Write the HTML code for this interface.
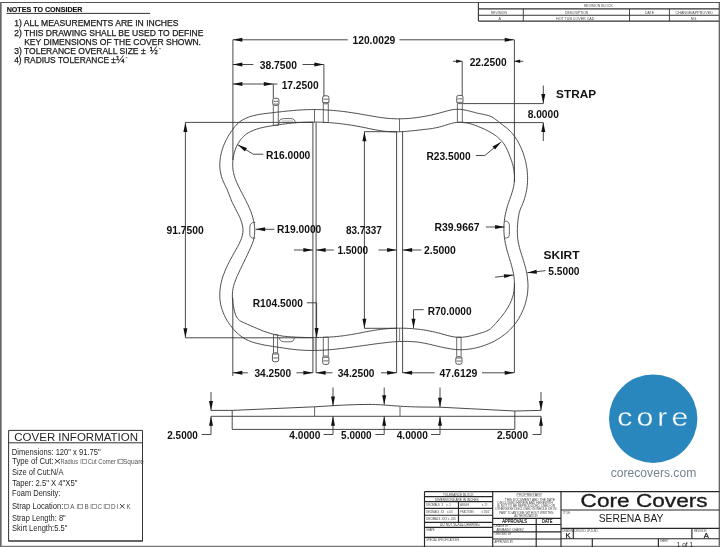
<!DOCTYPE html>
<html><head><meta charset="utf-8"><style>
html,body{margin:0;padding:0;background:#fff;}
body{width:720px;height:547px;overflow:hidden;}
svg{display:block;font-family:"Liberation Sans",sans-serif;will-change:transform;}
</style></head><body>
<svg width="720" height="547" viewBox="0 0 720 547">
<rect width="720" height="547" fill="#fff"/>
<line x1="0" y1="2.5" x2="720" y2="2.5" stroke="#555" stroke-width="1.2"/>
<line x1="0.8" y1="2" x2="0.8" y2="547" stroke="#666" stroke-width="1.7"/>
<line x1="719.3" y1="2" x2="719.3" y2="547" stroke="#555" stroke-width="1.2"/>
<line x1="0" y1="546.4" x2="720" y2="546.4" stroke="#777" stroke-width="1.2"/>
<line x1="6.5" y1="13.4" x2="150" y2="13.4" stroke="#333" stroke-width="1.0"/>
<line x1="478.4" y1="8.9" x2="719" y2="8.9" stroke="#333" stroke-width="1.1"/>
<line x1="478.4" y1="15.3" x2="719" y2="15.3" stroke="#333" stroke-width="1.1"/>
<line x1="478.4" y1="21.1" x2="719" y2="21.1" stroke="#333" stroke-width="1.1"/>
<line x1="478.4" y1="2.3" x2="478.4" y2="21.1" stroke="#333" stroke-width="1.1"/>
<line x1="523.3" y1="8.9" x2="523.3" y2="21.1" stroke="#333" stroke-width="0.9"/>
<line x1="629.5" y1="8.9" x2="629.5" y2="21.1" stroke="#333" stroke-width="0.9"/>
<line x1="669.4" y1="8.9" x2="669.4" y2="21.1" stroke="#333" stroke-width="0.9"/>
<path d="M310.0,109.6 L311.7,109.6 L313.4,109.5 L315.1,109.6 L316.7,109.6 L318.4,109.6 L320.1,109.6 L321.7,109.7 L323.4,109.8 L325.1,109.9 L326.7,110.0 L328.4,110.1 L330.1,110.2 L331.7,110.3 L333.4,110.5 L335.1,110.6 L336.7,110.8 L338.4,110.9 L340.1,111.1 L341.7,111.3 L343.4,111.5 L345.0,111.7 L346.7,111.9 L348.4,112.2 L350.0,112.4 L351.7,112.7 L353.3,112.9 L355.0,113.2 L356.6,113.4 L358.3,113.7 L360.0,114.0 L361.6,114.3 L363.3,114.6 L364.9,114.9 L366.6,115.1 L368.2,115.4 L369.9,115.7 L371.5,116.0 L373.2,116.3 L374.9,116.6 L376.5,116.8 L378.2,117.1 L379.8,117.4 L381.5,117.6 L383.1,117.8 L384.8,118.0 L386.5,118.2 L388.1,118.3 L389.8,118.5 L391.4,118.6 L393.1,118.7 L394.8,118.7 L396.4,118.8 L398.1,118.8 L399.8,118.8 L401.4,118.8 L403.1,118.7 L404.8,118.7 L406.4,118.6 L408.1,118.5 L409.8,118.4 L411.5,118.2 L413.1,118.0 L414.8,117.9 L416.5,117.6 L418.1,117.4 L419.8,117.2 L421.4,116.9 L423.1,116.6 L424.8,116.3 L426.4,116.0 L428.1,115.7 L429.7,115.4 L431.4,115.0 L433.0,114.6 L434.7,114.2 L436.3,113.8 L438.0,113.4 L439.6,113.0 L441.2,112.5 L442.9,112.1 L444.5,111.6 L446.1,111.2 L447.8,110.7 L449.4,110.4 L451.0,110.0 L452.6,109.7 L454.3,109.5 L455.9,109.4 L457.5,109.3 L459.1,109.3 L460.8,109.4 L462.4,109.6 L464.0,109.9 L465.7,110.2 L467.3,110.6 L468.9,110.9 L470.6,111.4 L472.2,111.8 L473.9,112.2 L475.5,112.7 L477.2,113.1 L478.8,113.5 L480.5,113.8 L482.2,114.1 L483.8,114.5 L485.5,114.8 L487.1,115.2 L488.7,115.6 L490.2,116.2 L491.7,116.9 L493.1,117.7 L494.5,118.6 L495.8,119.6 L497.2,120.6 L498.5,121.7 L499.9,122.7 L501.2,123.8 L502.6,124.8 L503.9,125.9 L505.2,126.9 L506.6,127.9 L507.8,129.0 L509.1,130.1 L510.3,131.3 L511.4,132.5 L512.5,133.7 L513.6,135.0 L514.6,136.3 L515.5,137.7 L516.4,139.1 L517.3,140.5 L518.1,141.9 L518.9,143.4 L519.7,144.9 L520.4,146.4 L521.1,147.9 L521.7,149.5 L522.4,151.0 L523.0,152.6 L523.5,154.2 L524.0,155.8 L524.5,157.4 L525.0,159.0 L525.4,160.6 L525.8,162.3 L526.1,163.9 L526.4,165.6 L526.7,167.3 L527.0,168.9 L527.2,170.6 L527.3,172.3 L527.4,173.9 L527.5,175.6 L527.6,177.3 L527.6,179.0 L527.5,180.6 L527.5,182.3 L527.4,184.0 L527.2,185.7 L527.0,187.3 L526.8,189.0 L526.5,190.6 L526.2,192.3 L525.8,193.9 L525.4,195.5 L525.0,197.1 L524.5,198.7 L524.0,200.3 L523.4,201.9 L522.8,203.4 L522.2,205.0 L521.5,206.5 L520.8,208.0 L520.2,209.6 L519.7,211.2 L519.2,212.7 L518.9,214.3 L518.6,216.0 L518.3,217.6 L518.1,219.3 L517.9,220.9 L517.8,222.6 L517.6,224.3 L517.5,226.0 L517.4,227.7 L517.4,229.4 L517.3,231.1 L517.4,232.8 L517.4,234.4 L517.5,236.1 L517.7,237.8 L517.8,239.5 L518.1,241.1 L518.4,242.8 L518.7,244.4 L519.1,246.0 L519.5,247.6 L519.9,249.2 L520.4,250.9 L520.9,252.5 L521.4,254.1 L521.9,255.7 L522.4,257.2 L522.9,258.8 L523.4,260.4 L523.9,262.0 L524.4,263.7 L524.8,265.3 L525.3,266.9 L525.7,268.5 L526.1,270.1 L526.4,271.8 L526.8,273.4 L527.1,275.0 L527.3,276.7 L527.5,278.3 L527.7,280.0 L527.8,281.7 L527.9,283.3 L528.0,285.0 L528.0,286.7 L527.9,288.3 L527.8,290.0 L527.7,291.7 L527.5,293.3 L527.3,295.0 L527.0,296.6 L526.7,298.3 L526.3,299.9 L525.9,301.6 L525.4,303.2 L525.0,304.8 L524.4,306.4 L523.8,308.0 L523.2,309.6 L522.6,311.1 L521.8,312.6 L521.1,314.2 L520.3,315.6 L519.5,317.1 L518.7,318.6 L517.8,320.0 L516.8,321.4 L515.9,322.8 L514.9,324.1 L513.8,325.4 L512.7,326.7 L511.6,328.0 L510.5,329.2 L509.3,330.4 L508.1,331.5 L506.9,332.6 L505.6,333.7 L504.3,334.7 L503.0,335.7 L501.6,336.7 L500.2,337.7 L498.8,338.6 L497.4,339.4 L495.9,340.3 L494.5,341.1 L493.0,341.8 L491.5,342.6 L489.9,343.2 L488.4,343.9 L486.8,344.5 L485.3,345.1 L483.7,345.7 L482.1,346.2 L480.5,346.7 L478.8,347.2 L477.2,347.6 L475.6,348.0 L473.9,348.3 L472.3,348.6 L470.6,348.9 L469.0,349.1 L467.3,349.3 L465.6,349.5 L464.0,349.6 L462.3,349.7 L460.7,349.7 L459.0,349.7 L457.3,349.6 L455.7,349.5 L454.0,349.3 L452.4,349.1 L450.7,348.9 L449.1,348.6 L447.4,348.3 L445.8,348.0 L444.1,347.7 L442.5,347.3 L440.8,346.9 L439.2,346.6 L437.5,346.2 L435.9,345.8 L434.2,345.4 L432.6,345.0 L430.9,344.6 L429.3,344.2 L427.7,343.9 L426.0,343.5 L424.4,343.2 L422.7,342.9 L421.1,342.6 L419.4,342.3 L417.8,342.1 L416.1,341.9 L414.4,341.8 L412.8,341.7 L411.1,341.6 L409.5,341.5 L407.8,341.4 L406.1,341.4 L404.5,341.4 L402.8,341.4 L401.1,341.5 L399.5,341.5 L397.8,341.6 L396.1,341.7 L394.5,341.8 L392.8,341.9 L391.1,342.1 L389.4,342.2 L387.8,342.4 L386.1,342.6 L384.4,342.8 L382.8,343.0 L381.1,343.2 L379.4,343.4 L377.8,343.6 L376.1,343.8 L374.4,344.0 L372.8,344.3 L371.1,344.5 L369.4,344.7 L367.8,345.0 L366.1,345.2 L364.4,345.4 L362.8,345.7 L361.1,345.9 L359.5,346.1 L357.8,346.4 L356.1,346.6 L354.5,346.8 L352.8,347.1 L351.1,347.3 L349.5,347.5 L347.8,347.7 L346.2,347.9 L344.5,348.2 L342.8,348.4 L341.2,348.6 L339.5,348.7 L337.9,348.9 L336.2,349.1 L334.5,349.3 L332.9,349.4 L331.2,349.6 L329.5,349.7 L327.9,349.8 L326.2,350.0 L324.5,350.1 L322.9,350.2 L321.2,350.3 L319.6,350.3 L317.9,350.4 L316.2,350.4 L314.5,350.5 L312.9,350.5 L311.2,350.5 L309.5,350.4 L307.9,350.4 L306.2,350.4 L304.5,350.3 L302.8,350.2 L301.2,350.1 L299.5,350.0 L297.8,349.8 L296.1,349.7 L294.5,349.5 L292.8,349.3 L291.1,349.1 L289.4,348.9 L287.8,348.7 L286.1,348.4 L284.4,348.2 L282.8,347.9 L281.1,347.7 L279.4,347.4 L277.8,347.2 L276.1,346.9 L274.5,346.7 L272.8,346.4 L271.2,346.2 L269.5,345.9 L267.9,345.6 L266.3,345.4 L264.6,345.1 L263.0,344.7 L261.4,344.4 L259.7,344.0 L258.1,343.7 L256.4,343.2 L254.8,342.8 L253.1,342.3 L251.5,341.7 L249.9,341.2 L248.4,340.5 L246.9,339.8 L245.4,339.1 L243.9,338.2 L242.5,337.3 L241.2,336.4 L239.9,335.4 L238.6,334.3 L237.3,333.2 L236.1,332.0 L235.0,330.8 L233.8,329.6 L232.7,328.3 L231.7,327.0 L230.6,325.7 L229.6,324.3 L228.7,322.9 L227.7,321.5 L226.9,320.1 L226.0,318.6 L225.2,317.1 L224.5,315.6 L223.8,314.1 L223.2,312.5 L222.6,310.9 L222.0,309.3 L221.5,307.7 L221.1,306.1 L220.7,304.5 L220.4,302.8 L220.2,301.2 L220.0,299.5 L219.8,297.9 L219.8,296.2 L219.8,294.5 L219.8,292.8 L219.9,291.1 L220.1,289.5 L220.3,287.8 L220.5,286.1 L220.8,284.5 L221.2,282.8 L221.5,281.2 L222.0,279.6 L222.4,278.0 L222.9,276.4 L223.5,274.8 L224.1,273.3 L224.7,271.7 L225.3,270.2 L225.9,268.7 L226.6,267.2 L227.3,265.7 L228.1,264.2 L228.8,262.7 L229.6,261.2 L230.4,259.7 L231.2,258.2 L232.0,256.8 L232.8,255.3 L233.6,253.8 L234.5,252.3 L235.3,250.8 L236.1,249.3 L237.0,247.8 L237.8,246.3 L238.6,244.8 L239.4,243.2 L240.1,241.7 L240.8,240.2 L241.4,238.6 L241.9,237.1 L242.3,235.5 L242.7,233.9 L242.9,232.3 L243.0,230.7 L243.0,229.1 L242.8,227.5 L242.6,225.9 L242.2,224.3 L241.8,222.7 L241.2,221.0 L240.6,219.4 L240.0,217.8 L239.2,216.2 L238.5,214.6 L237.7,213.1 L236.9,211.5 L236.1,210.0 L235.3,208.5 L234.6,207.0 L233.8,205.6 L233.1,204.1 L232.4,202.7 L231.7,201.2 L231.1,199.7 L230.5,198.2 L229.9,196.6 L229.3,195.1 L228.7,193.5 L228.1,192.0 L227.5,190.4 L226.8,188.8 L226.0,187.3 L225.3,185.7 L224.5,184.2 L223.8,182.6 L223.1,181.0 L222.5,179.5 L221.9,177.9 L221.4,176.3 L221.0,174.6 L220.6,173.0 L220.3,171.4 L220.1,169.8 L219.9,168.1 L219.8,166.5 L219.8,164.8 L219.8,163.2 L219.9,161.5 L220.1,159.9 L220.3,158.3 L220.5,156.6 L220.8,155.0 L221.2,153.4 L221.6,151.7 L222.1,150.1 L222.6,148.5 L223.1,146.9 L223.7,145.4 L224.4,143.8 L225.1,142.2 L225.8,140.7 L226.6,139.2 L227.4,137.7 L228.2,136.2 L229.1,134.7 L230.0,133.3 L230.9,131.9 L231.9,130.5 L232.9,129.1 L233.9,127.8 L234.9,126.5 L236.1,125.2 L237.2,124.0 L238.4,122.9 L239.7,121.9 L241.0,120.9 L242.4,120.0 L243.9,119.2 L245.4,118.5 L246.9,117.8 L248.5,117.2 L250.1,116.6 L251.8,116.1 L253.4,115.7 L255.0,115.3 L256.7,114.9 L258.3,114.6 L260.0,114.3 L261.6,114.1 L263.3,113.8 L264.9,113.6 L266.6,113.4 L268.3,113.2 L269.9,113.0 L271.6,112.8 L273.2,112.6 L274.9,112.4 L276.6,112.2 L278.2,112.0 L279.9,111.9 L281.6,111.7 L283.2,111.5 L284.9,111.3 L286.6,111.1 L288.3,111.0 L289.9,110.8 L291.6,110.7 L293.3,110.5 L295.0,110.4 L296.6,110.2 L298.3,110.1 L300.0,110.0 L301.7,109.9 L303.3,109.8 L305.0,109.7 L306.7,109.7 L308.4,109.6 L310.0,109.6Z" stroke="#363636" stroke-width="0.9" fill="none"/>
<path d="M310.0,122.1 L311.5,122.1 L313.0,122.1 L314.6,122.1 L316.1,122.1 L317.6,122.1 L319.2,122.2 L320.7,122.2 L322.2,122.3 L323.8,122.3 L325.3,122.4 L326.8,122.5 L328.4,122.6 L329.9,122.7 L331.4,122.8 L333.0,122.9 L334.5,123.1 L336.1,123.2 L337.6,123.4 L339.1,123.5 L340.7,123.7 L342.2,123.9 L343.7,124.1 L345.3,124.3 L346.8,124.5 L348.3,124.7 L349.9,125.0 L351.4,125.2 L352.9,125.4 L354.4,125.7 L356.0,126.0 L357.5,126.2 L359.0,126.5 L360.5,126.8 L362.0,127.1 L363.6,127.4 L365.1,127.7 L366.6,128.0 L368.1,128.4 L369.6,128.7 L371.1,129.0 L372.6,129.3 L374.1,129.6 L375.7,129.9 L377.2,130.1 L378.7,130.4 L380.2,130.6 L381.7,130.9 L383.2,131.1 L384.7,131.3 L386.3,131.4 L387.8,131.6 L389.3,131.7 L390.8,131.8 L392.4,131.8 L393.9,131.9 L395.4,131.9 L397.0,131.8 L398.5,131.8 L400.0,131.7 L401.6,131.7 L403.1,131.6 L404.7,131.5 L406.2,131.4 L407.7,131.2 L409.3,131.1 L410.8,130.9 L412.4,130.8 L413.9,130.6 L415.5,130.4 L417.0,130.3 L418.5,130.1 L420.1,129.9 L421.6,129.8 L423.1,129.6 L424.7,129.4 L426.2,129.3 L427.7,129.1 L429.2,128.9 L430.7,128.7 L432.3,128.5 L433.8,128.2 L435.3,127.9 L436.8,127.6 L438.3,127.3 L439.8,126.9 L441.3,126.5 L442.8,126.1 L444.3,125.6 L445.8,125.1 L447.2,124.7 L448.7,124.2 L450.2,123.8 L451.7,123.4 L453.2,123.0 L454.7,122.7 L456.2,122.5 L457.7,122.3 L459.2,122.2 L460.7,122.2 L462.2,122.3 L463.7,122.4 L465.2,122.6 L466.7,122.9 L468.2,123.2 L469.7,123.6 L471.2,124.0 L472.7,124.5 L474.2,125.0 L475.7,125.5 L477.2,126.1 L478.7,126.7 L480.1,127.3 L481.6,127.9 L483.0,128.5 L484.5,129.2 L485.9,129.9 L487.3,130.6 L488.7,131.3 L490.0,132.0 L491.4,132.8 L492.7,133.6 L494.0,134.5 L495.2,135.3 L496.4,136.2 L497.6,137.2 L498.7,138.2 L499.8,139.2 L500.9,140.3 L501.9,141.4 L502.9,142.5 L503.8,143.7 L504.7,145.0 L505.5,146.3 L506.2,147.7 L506.9,149.1 L507.6,150.5 L508.2,152.0 L508.8,153.5 L509.4,154.9 L509.9,156.4 L510.5,157.8 L511.0,159.3 L511.5,160.7 L512.0,162.1 L512.4,163.6 L512.9,165.0 L513.2,166.5 L513.5,168.0 L513.8,169.5 L514.0,171.0 L514.2,172.6 L514.4,174.1 L514.5,175.7 L514.5,177.2 L514.5,178.8 L514.4,180.3 L514.3,181.9 L514.1,183.4 L513.9,185.0 L513.6,186.5 L513.3,188.0 L512.9,189.5 L512.5,190.9 L512.1,192.4 L511.6,193.9 L511.2,195.3 L510.6,196.8 L510.1,198.2 L509.6,199.7 L509.1,201.1 L508.6,202.6 L508.1,204.0 L507.6,205.5 L507.2,207.0 L506.8,208.5 L506.4,210.0 L506.0,211.5 L505.7,213.0 L505.3,214.5 L505.0,216.0 L504.8,217.5 L504.6,219.0 L504.4,220.5 L504.2,222.1 L504.1,223.6 L504.0,225.1 L503.9,226.6 L503.9,228.2 L503.9,229.7 L503.9,231.2 L504.0,232.8 L504.1,234.3 L504.3,235.9 L504.4,237.4 L504.6,238.9 L504.9,240.4 L505.1,242.0 L505.4,243.5 L505.8,245.0 L506.1,246.5 L506.5,248.0 L506.8,249.5 L507.2,251.0 L507.7,252.5 L508.1,254.0 L508.5,255.4 L509.0,256.9 L509.4,258.4 L509.9,259.8 L510.3,261.3 L510.8,262.8 L511.2,264.2 L511.6,265.7 L512.0,267.2 L512.4,268.7 L512.7,270.2 L513.1,271.7 L513.4,273.2 L513.7,274.7 L513.9,276.2 L514.1,277.7 L514.2,279.3 L514.4,280.8 L514.4,282.4 L514.5,283.9 L514.4,285.5 L514.4,287.0 L514.3,288.5 L514.1,290.1 L513.9,291.6 L513.6,293.1 L513.3,294.6 L512.9,296.1 L512.4,297.5 L511.9,299.0 L511.4,300.4 L510.8,301.8 L510.2,303.2 L509.5,304.6 L508.7,305.9 L508.0,307.3 L507.2,308.6 L506.3,309.9 L505.5,311.2 L504.6,312.5 L503.7,313.7 L502.7,315.0 L501.8,316.2 L500.8,317.4 L499.8,318.6 L498.8,319.8 L497.8,321.0 L496.8,322.2 L495.7,323.4 L494.7,324.5 L493.7,325.6 L492.6,326.7 L491.6,327.8 L490.5,328.8 L489.3,329.6 L488.0,330.4 L486.7,331.0 L485.3,331.6 L483.9,332.1 L482.4,332.6 L480.9,333.0 L479.4,333.5 L477.9,333.9 L476.3,334.4 L474.8,334.8 L473.3,335.2 L471.7,335.6 L470.2,335.9 L468.7,336.3 L467.1,336.6 L465.6,336.8 L464.1,337.0 L462.5,337.2 L461.0,337.3 L459.5,337.3 L458.0,337.3 L456.4,337.2 L454.9,337.0 L453.4,336.8 L452.0,336.5 L450.5,336.2 L449.0,335.9 L447.5,335.5 L446.0,335.1 L444.5,334.7 L443.0,334.3 L441.5,333.8 L440.1,333.4 L438.6,333.0 L437.1,332.7 L435.6,332.3 L434.1,331.9 L432.6,331.6 L431.0,331.3 L429.5,331.0 L428.0,330.7 L426.5,330.4 L425.0,330.2 L423.5,329.9 L421.9,329.7 L420.4,329.5 L418.9,329.3 L417.4,329.1 L415.8,329.0 L414.3,328.8 L412.8,328.7 L411.2,328.6 L409.7,328.5 L408.1,328.4 L406.6,328.3 L405.1,328.3 L403.5,328.2 L402.0,328.2 L400.5,328.2 L398.9,328.2 L397.4,328.2 L395.8,328.2 L394.3,328.3 L392.8,328.4 L391.2,328.4 L389.7,328.5 L388.2,328.6 L386.6,328.8 L385.1,328.9 L383.6,329.1 L382.0,329.2 L380.5,329.4 L379.0,329.6 L377.5,329.8 L375.9,330.1 L374.4,330.3 L372.9,330.6 L371.4,330.8 L369.9,331.1 L368.3,331.4 L366.8,331.6 L365.3,331.9 L363.8,332.2 L362.3,332.5 L360.8,332.8 L359.3,333.1 L357.7,333.4 L356.2,333.7 L354.7,333.9 L353.2,334.2 L351.7,334.5 L350.2,334.7 L348.6,335.0 L347.1,335.2 L345.6,335.4 L344.1,335.7 L342.6,335.9 L341.0,336.0 L339.5,336.2 L338.0,336.4 L336.4,336.5 L334.9,336.7 L333.4,336.8 L331.9,336.9 L330.3,337.0 L328.8,337.1 L327.2,337.2 L325.7,337.3 L324.2,337.3 L322.6,337.4 L321.1,337.4 L319.6,337.5 L318.0,337.5 L316.5,337.5 L314.9,337.5 L313.4,337.5 L311.8,337.5 L310.3,337.5 L308.8,337.5 L307.2,337.5 L305.7,337.5 L304.1,337.4 L302.6,337.4 L301.0,337.3 L299.5,337.3 L298.0,337.2 L296.4,337.2 L294.9,337.1 L293.3,337.0 L291.8,336.9 L290.3,336.8 L288.7,336.7 L287.2,336.6 L285.7,336.4 L284.2,336.3 L282.6,336.1 L281.1,335.8 L279.6,335.6 L278.1,335.3 L276.6,335.0 L275.1,334.7 L273.6,334.3 L272.2,333.9 L270.7,333.5 L269.2,333.1 L267.8,332.6 L266.3,332.1 L264.8,331.6 L263.4,331.1 L262.0,330.5 L260.5,329.9 L259.1,329.3 L257.6,328.7 L256.2,328.1 L254.8,327.5 L253.4,326.9 L251.9,326.3 L250.5,325.6 L249.1,325.0 L247.7,324.4 L246.3,323.8 L244.8,323.1 L243.4,322.5 L242.0,321.9 L240.7,321.2 L239.5,320.4 L238.4,319.4 L237.5,318.4 L236.7,317.2 L236.0,315.9 L235.5,314.5 L235.0,313.0 L234.6,311.5 L234.2,310.0 L233.9,308.4 L233.5,306.9 L233.3,305.3 L233.0,303.7 L232.8,302.2 L232.6,300.6 L232.5,299.1 L232.4,297.5 L232.4,296.0 L232.4,294.4 L232.5,292.9 L232.6,291.3 L232.8,289.8 L233.1,288.3 L233.4,286.8 L233.8,285.4 L234.2,283.9 L234.7,282.5 L235.2,281.0 L235.8,279.6 L236.3,278.2 L236.9,276.7 L237.6,275.3 L238.2,273.9 L238.9,272.5 L239.5,271.1 L240.2,269.7 L240.9,268.3 L241.5,266.9 L242.2,265.6 L242.8,264.2 L243.5,262.8 L244.2,261.4 L244.8,260.0 L245.5,258.6 L246.1,257.3 L246.8,255.9 L247.5,254.5 L248.1,253.1 L248.8,251.7 L249.4,250.3 L250.1,248.9 L250.7,247.5 L251.3,246.0 L251.9,244.6 L252.5,243.2 L253.0,241.7 L253.5,240.2 L253.8,238.8 L254.1,237.3 L254.4,235.7 L254.6,234.2 L254.7,232.7 L254.7,231.2 L254.7,229.6 L254.7,228.1 L254.5,226.5 L254.4,225.0 L254.2,223.5 L253.9,222.0 L253.6,220.5 L253.2,219.0 L252.8,217.5 L252.4,216.0 L251.9,214.5 L251.4,213.1 L250.9,211.6 L250.3,210.2 L249.7,208.8 L249.1,207.4 L248.5,206.0 L247.8,204.6 L247.1,203.2 L246.4,201.8 L245.8,200.4 L245.0,199.0 L244.3,197.6 L243.6,196.3 L242.9,194.9 L242.2,193.5 L241.5,192.1 L240.7,190.8 L240.0,189.4 L239.4,188.0 L238.7,186.7 L238.0,185.3 L237.4,183.9 L236.8,182.5 L236.2,181.1 L235.6,179.7 L235.1,178.3 L234.6,176.9 L234.2,175.4 L233.8,174.0 L233.5,172.5 L233.2,171.0 L233.0,169.5 L232.8,167.9 L232.7,166.4 L232.7,164.8 L232.7,163.3 L232.8,161.7 L232.9,160.1 L233.1,158.5 L233.3,157.0 L233.6,155.4 L234.0,153.9 L234.4,152.3 L234.9,150.8 L235.4,149.3 L235.9,147.9 L236.6,146.4 L237.3,145.0 L238.0,143.7 L238.8,142.4 L239.6,141.1 L240.5,139.9 L241.5,138.7 L242.5,137.6 L243.5,136.5 L244.6,135.5 L245.7,134.6 L246.9,133.7 L248.2,132.9 L249.5,132.2 L250.8,131.5 L252.2,130.9 L253.6,130.3 L255.0,129.7 L256.4,129.2 L257.9,128.8 L259.4,128.3 L260.9,127.9 L262.4,127.6 L264.0,127.2 L265.5,126.9 L267.1,126.6 L268.6,126.3 L270.2,126.1 L271.8,125.8 L273.3,125.5 L274.9,125.3 L276.4,125.0 L277.9,124.8 L279.5,124.6 L281.0,124.4 L282.5,124.2 L284.1,124.0 L285.6,123.8 L287.1,123.6 L288.7,123.4 L290.2,123.3 L291.7,123.1 L293.2,123.0 L294.7,122.8 L296.3,122.7 L297.8,122.6 L299.3,122.5 L300.8,122.4 L302.4,122.3 L303.9,122.3 L305.4,122.2 L306.9,122.2 L308.5,122.1 L310.0,122.1Z" stroke="#363636" stroke-width="0.9" fill="none"/>
<line x1="312.9" y1="122.5" x2="312.9" y2="373" stroke="#363636" stroke-width="0.9"/>
<line x1="316.1" y1="122.8" x2="316.1" y2="373" stroke="#363636" stroke-width="0.9"/>
<line x1="314.5" y1="109.5" x2="314.5" y2="122.5" stroke="#444" stroke-width="0.8"/>
<line x1="396.6" y1="131.7" x2="396.6" y2="373" stroke="#363636" stroke-width="0.9"/>
<line x1="402.6" y1="131.5" x2="402.6" y2="373" stroke="#363636" stroke-width="0.9"/>
<line x1="399.5" y1="118.8" x2="399.5" y2="131.5" stroke="#444" stroke-width="0.8"/>
<line x1="399.6" y1="328.3" x2="399.6" y2="341.3" stroke="#555" stroke-width="0.7"/>
<line x1="313.4" y1="337.5" x2="313.4" y2="350.8" stroke="#666" stroke-width="0.6"/>
<line x1="315.3" y1="337.5" x2="315.3" y2="350.8" stroke="#666" stroke-width="0.6"/>
<line x1="232.9" y1="39.8" x2="232.9" y2="160" stroke="#363636" stroke-width="0.9"/>
<line x1="514.4" y1="39.8" x2="514.4" y2="182" stroke="#363636" stroke-width="0.9"/>
<line x1="514.4" y1="283" x2="514.4" y2="373" stroke="#363636" stroke-width="0.9"/>
<line x1="232.9" y1="39.8" x2="347.8" y2="39.8" stroke="#363636" stroke-width="0.9"/>
<line x1="399.4" y1="39.8" x2="514.2" y2="39.8" stroke="#363636" stroke-width="0.9"/>
<path d="M232.90,39.80 L242.40,37.80 L242.40,41.80Z" fill="#111" stroke="none"/>
<path d="M514.20,39.80 L504.70,41.80 L504.70,37.80Z" fill="#111" stroke="none"/>
<line x1="232.9" y1="64.5" x2="253.3" y2="64.5" stroke="#363636" stroke-width="0.9"/>
<line x1="302.5" y1="64.5" x2="323.9" y2="64.5" stroke="#363636" stroke-width="0.9"/>
<line x1="323.9" y1="64.5" x2="323.9" y2="96" stroke="#363636" stroke-width="0.9"/>
<path d="M232.90,64.50 L242.40,62.50 L242.40,66.50Z" fill="#111" stroke="none"/>
<path d="M323.90,64.50 L314.40,66.50 L314.40,62.50Z" fill="#111" stroke="none"/>
<line x1="232.9" y1="84" x2="277.5" y2="84" stroke="#363636" stroke-width="0.9"/>
<line x1="273.3" y1="84" x2="273.3" y2="98" stroke="#363636" stroke-width="0.9"/>
<path d="M232.90,84.00 L242.40,82.00 L242.40,86.00Z" fill="#111" stroke="none"/>
<path d="M273.30,84.00 L263.80,86.00 L263.80,82.00Z" fill="#111" stroke="none"/>
<line x1="453" y1="61.3" x2="462.2" y2="61.3" stroke="#363636" stroke-width="0.9"/>
<line x1="462.2" y1="61.3" x2="462.2" y2="96" stroke="#363636" stroke-width="0.9"/>
<line x1="514.2" y1="61.3" x2="523.3" y2="61.3" stroke="#363636" stroke-width="0.9"/>
<path d="M462.20,61.30 L456.20,63.10 L456.20,59.50Z" fill="#111" stroke="none"/>
<path d="M514.20,61.30 L520.20,59.50 L520.20,63.10Z" fill="#111" stroke="none"/>
<line x1="462.5" y1="103.6" x2="543.3" y2="103.6" stroke="#363636" stroke-width="0.9"/>
<line x1="462.5" y1="122.6" x2="543.3" y2="122.6" stroke="#363636" stroke-width="0.9"/>
<line x1="543.3" y1="85.6" x2="543.3" y2="103.6" stroke="#363636" stroke-width="0.9"/>
<line x1="543.3" y1="122.6" x2="543.3" y2="141" stroke="#363636" stroke-width="0.9"/>
<path d="M543.30,103.60 L541.30,94.10 L545.30,94.10Z" fill="#111" stroke="none"/>
<path d="M543.30,122.60 L545.30,132.10 L541.30,132.10Z" fill="#111" stroke="none"/>
<line x1="185.4" y1="122.4" x2="313.2" y2="122.4" stroke="#363636" stroke-width="0.9"/>
<line x1="185.4" y1="337.8" x2="313.2" y2="337.8" stroke="#363636" stroke-width="0.9"/>
<line x1="185.4" y1="122.4" x2="185.4" y2="337.8" stroke="#363636" stroke-width="0.9"/>
<path d="M185.40,122.40 L187.40,131.90 L183.40,131.90Z" fill="#111" stroke="none"/>
<path d="M185.40,337.80 L183.40,328.30 L187.40,328.30Z" fill="#111" stroke="none"/>
<line x1="237.8" y1="144.8" x2="253.3" y2="154.2" stroke="#363636" stroke-width="0.9"/>
<line x1="253.3" y1="154.2" x2="263.3" y2="154.2" stroke="#363636" stroke-width="0.9"/>
<path d="M237.80,144.80 L246.96,148.01 L244.89,151.43Z" fill="#111" stroke="none"/>
<line x1="255.6" y1="229.3" x2="274.4" y2="229.3" stroke="#363636" stroke-width="0.9"/>
<path d="M255.60,229.30 L265.10,227.30 L265.10,231.30Z" fill="#111" stroke="none"/>
<line x1="364.4" y1="131.7" x2="364.4" y2="328.3" stroke="#363636" stroke-width="0.9"/>
<line x1="364.4" y1="131.7" x2="396.6" y2="131.7" stroke="#363636" stroke-width="0.9"/>
<line x1="364.4" y1="328.3" x2="396.6" y2="328.3" stroke="#363636" stroke-width="0.9"/>
<path d="M364.40,131.70 L366.40,141.20 L362.40,141.20Z" fill="#111" stroke="none"/>
<path d="M364.40,328.30 L362.40,318.80 L366.40,318.80Z" fill="#111" stroke="none"/>
<line x1="293.9" y1="250" x2="312.9" y2="250" stroke="#363636" stroke-width="0.9"/>
<line x1="316.1" y1="250" x2="333.8" y2="250" stroke="#363636" stroke-width="0.9"/>
<line x1="378.5" y1="250" x2="396.6" y2="250" stroke="#363636" stroke-width="0.9"/>
<line x1="402.6" y1="250" x2="421.3" y2="250" stroke="#363636" stroke-width="0.9"/>
<path d="M312.90,250.00 L303.40,252.00 L303.40,248.00Z" fill="#111" stroke="none"/>
<path d="M316.10,250.00 L325.60,248.00 L325.60,252.00Z" fill="#111" stroke="none"/>
<path d="M396.60,250.00 L387.10,252.00 L387.10,248.00Z" fill="#111" stroke="none"/>
<path d="M402.60,250.00 L412.10,248.00 L412.10,252.00Z" fill="#111" stroke="none"/>
<line x1="475.8" y1="155.5" x2="484.8" y2="155.5" stroke="#363636" stroke-width="0.9"/>
<line x1="484.8" y1="155.5" x2="501.1" y2="142" stroke="#363636" stroke-width="0.9"/>
<path d="M501.10,142.00 L495.08,149.62 L492.52,146.55Z" fill="#111" stroke="none"/>
<line x1="486" y1="227" x2="504.6" y2="227" stroke="#363636" stroke-width="0.9"/>
<path d="M504.60,227.00 L495.10,229.00 L495.10,225.00Z" fill="#111" stroke="none"/>
<line x1="495.1" y1="277.2" x2="513.5" y2="275" stroke="#363636" stroke-width="0.9"/>
<path d="M513.50,275.00 L504.31,278.12 L503.83,274.15Z" fill="#111" stroke="none"/>
<line x1="527.3" y1="272.8" x2="545.6" y2="270.6" stroke="#363636" stroke-width="0.9"/>
<path d="M527.30,272.80 L536.49,269.68 L536.97,273.65Z" fill="#111" stroke="none"/>
<line x1="306.8" y1="302.8" x2="316.6" y2="302.8" stroke="#363636" stroke-width="0.9"/>
<line x1="316.6" y1="302.8" x2="316.6" y2="337.5" stroke="#363636" stroke-width="0.9"/>
<path d="M316.60,337.50 L314.60,328.00 L318.60,328.00Z" fill="#111" stroke="none"/>
<line x1="413.5" y1="309.7" x2="423.7" y2="309.7" stroke="#363636" stroke-width="0.9"/>
<line x1="413.5" y1="309.7" x2="413.5" y2="328.3" stroke="#363636" stroke-width="0.9"/>
<path d="M413.50,328.30 L411.50,318.80 L415.50,318.80Z" fill="#111" stroke="none"/>
<line x1="232.8" y1="297.6" x2="232.8" y2="376" stroke="#363636" stroke-width="0.9"/>
<line x1="232.8" y1="372.8" x2="247.8" y2="372.8" stroke="#363636" stroke-width="0.9"/>
<line x1="296.4" y1="372.8" x2="312.9" y2="372.8" stroke="#363636" stroke-width="0.9"/>
<path d="M232.80,372.80 L242.30,370.80 L242.30,374.80Z" fill="#111" stroke="none"/>
<path d="M312.90,372.80 L303.40,374.80 L303.40,370.80Z" fill="#111" stroke="none"/>
<line x1="316.1" y1="372.8" x2="332.5" y2="372.8" stroke="#363636" stroke-width="0.9"/>
<line x1="381" y1="372.8" x2="396.6" y2="372.8" stroke="#363636" stroke-width="0.9"/>
<path d="M316.10,372.80 L325.60,370.80 L325.60,374.80Z" fill="#111" stroke="none"/>
<path d="M396.60,372.80 L387.10,374.80 L387.10,370.80Z" fill="#111" stroke="none"/>
<line x1="402.6" y1="372.8" x2="434.7" y2="372.8" stroke="#363636" stroke-width="0.9"/>
<line x1="482" y1="372.8" x2="514.2" y2="372.8" stroke="#363636" stroke-width="0.9"/>
<path d="M402.60,372.80 L412.10,370.80 L412.10,374.80Z" fill="#111" stroke="none"/>
<path d="M514.20,372.80 L504.70,374.80 L504.70,370.80Z" fill="#111" stroke="none"/>
<path d="M211,410.4 L232.2,410.4 L314.6,406.8 C335,405.6 350,404.4 370,404.4 C385,404.5 395,406.6 420,407 L440,407.2 L514.8,411 L541,410.4" stroke="#363636" stroke-width="0.9" fill="none"/>
<line x1="211" y1="416.3" x2="541" y2="416.3" stroke="#363636" stroke-width="0.9"/>
<line x1="232.2" y1="410.4" x2="232.2" y2="429.4" stroke="#363636" stroke-width="0.9"/>
<line x1="514.8" y1="411" x2="514.8" y2="429.4" stroke="#363636" stroke-width="0.9"/>
<line x1="232.2" y1="429.4" x2="514.8" y2="429.4" stroke="#363636" stroke-width="0.9"/>
<line x1="314.6" y1="406.8" x2="314.6" y2="416.3" stroke="#555" stroke-width="0.9"/>
<line x1="400" y1="407" x2="400" y2="416.3" stroke="#555" stroke-width="0.9"/>
<line x1="211" y1="392" x2="211" y2="410.4" stroke="#363636" stroke-width="0.9"/>
<path d="M211.00,410.40 L209.00,400.90 L213.00,400.90Z" fill="#111" stroke="none"/>
<line x1="211" y1="416.3" x2="211" y2="434.5" stroke="#363636" stroke-width="0.9"/>
<path d="M211.00,416.30 L213.00,425.80 L209.00,425.80Z" fill="#111" stroke="none"/>
<line x1="201.7" y1="434.5" x2="211" y2="434.5" stroke="#363636" stroke-width="0.9"/>
<line x1="333" y1="387.5" x2="333" y2="405.9" stroke="#363636" stroke-width="0.9"/>
<path d="M333.00,405.90 L331.00,396.40 L335.00,396.40Z" fill="#111" stroke="none"/>
<line x1="333" y1="416.3" x2="333" y2="434.5" stroke="#363636" stroke-width="0.9"/>
<path d="M333.00,416.30 L335.00,425.80 L331.00,425.80Z" fill="#111" stroke="none"/>
<line x1="323.6" y1="434.5" x2="333" y2="434.5" stroke="#363636" stroke-width="0.9"/>
<line x1="384.2" y1="387.5" x2="384.2" y2="404.7" stroke="#363636" stroke-width="0.9"/>
<path d="M384.20,404.70 L382.20,395.20 L386.20,395.20Z" fill="#111" stroke="none"/>
<line x1="384.2" y1="416.3" x2="384.2" y2="434.5" stroke="#363636" stroke-width="0.9"/>
<path d="M384.20,416.30 L386.20,425.80 L382.20,425.80Z" fill="#111" stroke="none"/>
<line x1="375.4" y1="434.5" x2="384.2" y2="434.5" stroke="#363636" stroke-width="0.9"/>
<line x1="440" y1="387.5" x2="440" y2="407.2" stroke="#363636" stroke-width="0.9"/>
<path d="M440.00,407.20 L438.00,397.70 L442.00,397.70Z" fill="#111" stroke="none"/>
<line x1="440" y1="416.3" x2="440" y2="434.5" stroke="#363636" stroke-width="0.9"/>
<path d="M440.00,416.30 L442.00,425.80 L438.00,425.80Z" fill="#111" stroke="none"/>
<line x1="431" y1="434.5" x2="440" y2="434.5" stroke="#363636" stroke-width="0.9"/>
<line x1="541" y1="392" x2="541" y2="410.4" stroke="#363636" stroke-width="0.9"/>
<path d="M541.00,410.40 L539.00,400.90 L543.00,400.90Z" fill="#111" stroke="none"/>
<line x1="541" y1="416.3" x2="541" y2="434.5" stroke="#363636" stroke-width="0.9"/>
<path d="M541.00,416.30 L543.00,425.80 L539.00,425.80Z" fill="#111" stroke="none"/>
<line x1="532.6" y1="434.5" x2="541" y2="434.5" stroke="#363636" stroke-width="0.9"/>
<path d="M273.3,105.4 L273.3,125.4 L278.3,125.4 L278.3,105.4" stroke="#444" stroke-width="0.8" fill="none"/>
<rect x="272.70" y="98.30" width="6.20" height="7.10" rx="1.8" ry="1.8" fill="#fff" stroke="#3a3a3a" stroke-width="0.85"/>
<line x1="273.5" y1="101.282" x2="278.09999999999997" y2="101.282" stroke="#444" stroke-width="0.8"/>
<line x1="273.2" y1="104.10000000000001" x2="278.4" y2="104.10000000000001" stroke="#555" stroke-width="0.9"/>
<path d="M323.3,103.8 L323.3,122.5 L328.3,122.5 L328.3,103.8" stroke="#444" stroke-width="0.8" fill="none"/>
<rect x="322.70" y="95.80" width="6.20" height="8.00" rx="1.8" ry="1.8" fill="#fff" stroke="#3a3a3a" stroke-width="0.85"/>
<line x1="323.5" y1="99.16" x2="328.09999999999997" y2="99.16" stroke="#444" stroke-width="0.8"/>
<line x1="323.2" y1="102.5" x2="328.4" y2="102.5" stroke="#555" stroke-width="0.9"/>
<path d="M457.4,103.6 L457.4,122.4 L462.3,122.4 L462.3,103.6" stroke="#444" stroke-width="0.8" fill="none"/>
<rect x="456.75" y="95.40" width="6.20" height="8.20" rx="1.8" ry="1.8" fill="#fff" stroke="#3a3a3a" stroke-width="0.85"/>
<line x1="457.55" y1="98.844" x2="462.15" y2="98.844" stroke="#444" stroke-width="0.8"/>
<line x1="457.25" y1="102.3" x2="462.45" y2="102.3" stroke="#555" stroke-width="0.9"/>
<path d="M273.5,352.8 L273.5,334.6 L277.6,334.6 L277.6,352.8" stroke="#444" stroke-width="0.8" fill="none"/>
<rect x="272.45" y="352.80" width="6.20" height="8.90" rx="1.8" ry="1.8" fill="#fff" stroke="#3a3a3a" stroke-width="0.85"/>
<line x1="273.25" y1="357.962" x2="277.84999999999997" y2="357.962" stroke="#444" stroke-width="0.8"/>
<line x1="272.95" y1="354.1" x2="278.15" y2="354.1" stroke="#555" stroke-width="0.9"/>
<path d="M323.3,356 L323.3,337.2 L328.3,337.2 L328.3,356" stroke="#444" stroke-width="0.8" fill="none"/>
<rect x="322.70" y="356.00" width="6.20" height="8.40" rx="1.8" ry="1.8" fill="#fff" stroke="#3a3a3a" stroke-width="0.85"/>
<line x1="323.5" y1="360.872" x2="328.09999999999997" y2="360.872" stroke="#444" stroke-width="0.8"/>
<line x1="323.2" y1="357.3" x2="328.4" y2="357.3" stroke="#555" stroke-width="0.9"/>
<path d="M456.7,356.7 L456.7,337.2 L461.1,337.2 L461.1,356.7" stroke="#444" stroke-width="0.8" fill="none"/>
<rect x="455.80" y="356.70" width="6.20" height="7.50" rx="1.8" ry="1.8" fill="#fff" stroke="#3a3a3a" stroke-width="0.85"/>
<line x1="456.59999999999997" y1="361.05" x2="461.19999999999993" y2="361.05" stroke="#444" stroke-width="0.8"/>
<line x1="456.29999999999995" y1="358.0" x2="461.49999999999994" y2="358.0" stroke="#555" stroke-width="0.9"/>
<path d="M279,124.5 L279,121.5 Q280,118.6 283.5,118.6 L291,118.6 Q295,118.6 295.5,123.2" stroke="#444" stroke-width="0.8" fill="none"/>
<line x1="282" y1="121" x2="293" y2="121" stroke="#888" stroke-width="0.6"/>
<path d="M279.7,337.5 L279.7,339.5 Q281,341.8 284,341.8 L290.5,341.8 Q294,341.8 294.3,337.5" stroke="#444" stroke-width="0.8" fill="none"/>
<path d="M255.3,222.6 L252.5,222.6 Q249.8,223.5 249.8,227 L249.8,233.5 Q249.8,238 252.5,238 L255.3,238" stroke="#444" stroke-width="0.8" fill="none"/>
<path d="M504.3,221.2 L506.5,221.2 Q509.4,222 509.4,225 L509.4,234.5 Q509.4,238 506.5,238 L504.3,238" stroke="#444" stroke-width="0.8" fill="none"/>
<line x1="8.6" y1="430.4" x2="142.5" y2="430.4" stroke="#333" stroke-width="1.0"/>
<line x1="8.6" y1="442.8" x2="142.5" y2="442.8" stroke="#333" stroke-width="1.0"/>
<line x1="8.6" y1="430.4" x2="8.6" y2="541" stroke="#333" stroke-width="1.0"/>
<line x1="142.5" y1="430.4" x2="142.5" y2="541" stroke="#333" stroke-width="1.0"/>
<line x1="8.3" y1="541" x2="142.8" y2="541" stroke="#333" stroke-width="1.3"/>
<line x1="54.8" y1="459" x2="60" y2="463.5" stroke="#222" stroke-width="0.9"/>
<line x1="54.8" y1="463.5" x2="60" y2="459" stroke="#222" stroke-width="0.9"/>
<line x1="80.9" y1="459" x2="80.9" y2="464" stroke="#666" stroke-width="0.6"/>
<rect x="82.4" y="459.4" width="4.2" height="4.2" fill="none" stroke="#666" stroke-width="0.6"/>
<line x1="117.8" y1="459" x2="117.8" y2="464" stroke="#666" stroke-width="0.6"/>
<rect x="118.8" y="459.4" width="4.2" height="4.2" fill="none" stroke="#666" stroke-width="0.6"/>
<rect x="64.3" y="504.4" width="4.2" height="4.2" fill="none" stroke="#666" stroke-width="0.6"/>
<line x1="77.4" y1="503.8" x2="77.4" y2="509" stroke="#666" stroke-width="0.6"/>
<rect x="78.5" y="504.4" width="4.2" height="4.2" fill="none" stroke="#666" stroke-width="0.6"/>
<line x1="91" y1="503.8" x2="91" y2="509" stroke="#666" stroke-width="0.6"/>
<rect x="92.2" y="504.4" width="4.2" height="4.2" fill="none" stroke="#666" stroke-width="0.6"/>
<line x1="104.2" y1="503.8" x2="104.2" y2="509" stroke="#666" stroke-width="0.6"/>
<rect x="105.2" y="504.4" width="4.2" height="4.2" fill="none" stroke="#666" stroke-width="0.6"/>
<line x1="117.5" y1="503.8" x2="117.5" y2="509" stroke="#666" stroke-width="0.6"/>
<line x1="120" y1="504" x2="124.5" y2="508.5" stroke="#222" stroke-width="0.9"/>
<line x1="120" y1="508.5" x2="124.5" y2="504" stroke="#222" stroke-width="0.9"/>
<circle cx="653.2" cy="418.7" r="44.2" fill="#2a87be"/>
<text x="0" y="0" font-size="26.5" letter-spacing="3.6" fill="#fff" stroke="#2a87be" stroke-width="0.3" transform="translate(617.2,426) scale(1.14,1)">core</text>
<line x1="424.5" y1="491.6" x2="719.3" y2="491.6" stroke="#262626" stroke-width="1.15"/>
<line x1="424.5" y1="491.6" x2="424.5" y2="547" stroke="#262626" stroke-width="1.15"/>
<line x1="492.7" y1="491.6" x2="492.7" y2="547" stroke="#262626" stroke-width="1.15"/>
<line x1="561" y1="491.6" x2="561" y2="547" stroke="#262626" stroke-width="1.15"/>
<line x1="424.5" y1="496.6" x2="492.7" y2="496.6" stroke="#262626" stroke-width="1.15"/>
<line x1="424.5" y1="501.6" x2="492.7" y2="501.6" stroke="#262626" stroke-width="1.15"/>
<line x1="424.5" y1="508.3" x2="492.7" y2="508.3" stroke="#262626" stroke-width="1.15"/>
<line x1="424.5" y1="515.2" x2="492.7" y2="515.2" stroke="#262626" stroke-width="1.15"/>
<line x1="424.5" y1="522.3" x2="492.7" y2="522.3" stroke="#262626" stroke-width="1.15"/>
<line x1="424.5" y1="527.3" x2="492.7" y2="527.3" stroke="#262626" stroke-width="1.15"/>
<line x1="424.5" y1="537.3" x2="492.7" y2="537.3" stroke="#262626" stroke-width="1.15"/>
<line x1="458.5" y1="501.6" x2="458.5" y2="522.3" stroke="#262626" stroke-width="1.15"/>
<line x1="492.7" y1="518.4" x2="561" y2="518.4" stroke="#262626" stroke-width="1.15"/>
<line x1="492.7" y1="524.5" x2="561" y2="524.5" stroke="#262626" stroke-width="1.15"/>
<line x1="492.7" y1="531.8" x2="561" y2="531.8" stroke="#262626" stroke-width="1.15"/>
<line x1="492.7" y1="539" x2="561" y2="539" stroke="#262626" stroke-width="1.15"/>
<line x1="536.2" y1="518.4" x2="536.2" y2="547" stroke="#262626" stroke-width="1.15"/>
<line x1="517" y1="496.6" x2="541.5" y2="496.6" stroke="#888" stroke-width="0.4"/>
<line x1="561" y1="510" x2="719.3" y2="510" stroke="#262626" stroke-width="1.15"/>
<line x1="561" y1="528.4" x2="719.3" y2="528.4" stroke="#262626" stroke-width="1.15"/>
<line x1="561" y1="538.7" x2="719.3" y2="538.7" stroke="#262626" stroke-width="1.15"/>
<line x1="573.3" y1="528.4" x2="573.3" y2="538.7" stroke="#262626" stroke-width="1.15"/>
<line x1="691.9" y1="528.4" x2="691.9" y2="538.7" stroke="#262626" stroke-width="1.15"/>
<line x1="592.3" y1="538.7" x2="592.3" y2="547" stroke="#262626" stroke-width="1.15"/>
<line x1="658.4" y1="538.7" x2="658.4" y2="547" stroke="#262626" stroke-width="1.15"/>
<text x="6.7" y="11.8" font-size="7.9" text-anchor="start" fill="#111" font-weight="bold" textLength="75.8" lengthAdjust="spacingAndGlyphs" stroke="#111" stroke-width="0.15">NOTES TO CONSIDER</text>
<text x="14.2" y="25.8" font-size="8.6" text-anchor="start" fill="#1a1a1a" textLength="164.3" lengthAdjust="spacingAndGlyphs" stroke="#1a1a1a" stroke-width="0.25">1) ALL MEASUREMENTS ARE IN INCHES</text>
<text x="14.2" y="35.8" font-size="8.6" text-anchor="start" fill="#1a1a1a" textLength="189.3" lengthAdjust="spacingAndGlyphs" stroke="#1a1a1a" stroke-width="0.25">2) THIS DRAWING SHALL BE USED TO DEFINE</text>
<text x="24.2" y="45" font-size="8.6" text-anchor="start" fill="#1a1a1a" textLength="176.8" lengthAdjust="spacingAndGlyphs" stroke="#1a1a1a" stroke-width="0.25">KEY DIMENSIONS OF THE COVER SHOWN.</text>
<text x="14.2" y="53.7" font-size="8.6" text-anchor="start" fill="#1a1a1a" textLength="131.4" lengthAdjust="spacingAndGlyphs" stroke="#1a1a1a" stroke-width="0.25">3) TOLERANCE OVERALL SIZE ±</text>
<text x="14.2" y="63" font-size="8.6" text-anchor="start" fill="#1a1a1a" textLength="101.8" lengthAdjust="spacingAndGlyphs" stroke="#1a1a1a" stroke-width="0.25">4) RADIUS TOLERANCE ±</text>
<text x="583.9" y="7.1" font-size="4.1" text-anchor="start" fill="#4a4a4a" textLength="28.9" lengthAdjust="spacingAndGlyphs">REVISION BLOCK</text>
<text x="490.9" y="13.8" font-size="4.1" text-anchor="start" fill="#4a4a4a" textLength="16.0" lengthAdjust="spacingAndGlyphs">REVISION</text>
<text x="565" y="13.8" font-size="4.1" text-anchor="start" fill="#4a4a4a" textLength="23.3" lengthAdjust="spacingAndGlyphs">DESCRIPTION</text>
<text x="645" y="13.8" font-size="4.1" text-anchor="start" fill="#4a4a4a" textLength="9.0" lengthAdjust="spacingAndGlyphs">DATE</text>
<text x="675.6" y="13.8" font-size="4.1" text-anchor="start" fill="#4a4a4a" textLength="37.2" lengthAdjust="spacingAndGlyphs">CHANGE/APPROVED</text>
<text x="498.5" y="20.3" font-size="4.1" text-anchor="start" fill="#4a4a4a" textLength="2.4" lengthAdjust="spacingAndGlyphs">A</text>
<text x="556.1" y="20.3" font-size="4.1" text-anchor="start" fill="#4a4a4a" textLength="38.3" lengthAdjust="spacingAndGlyphs">HOT TUB COVER CAD</text>
<text x="690.8" y="20.3" font-size="4.1" text-anchor="start" fill="#4a4a4a" textLength="5.6" lengthAdjust="spacingAndGlyphs">NG</text>
<text x="352.5" y="43.9" font-size="10.3" text-anchor="start" fill="#111" font-weight="bold" textLength="42.8" lengthAdjust="spacingAndGlyphs">120.0029</text>
<text x="259.7" y="68.8" font-size="10.3" text-anchor="start" fill="#111" font-weight="bold" textLength="37.3" lengthAdjust="spacingAndGlyphs">38.7500</text>
<text x="281.7" y="88.8" font-size="10.3" text-anchor="start" fill="#111" font-weight="bold" textLength="36.9" lengthAdjust="spacingAndGlyphs">17.2500</text>
<text x="469.7" y="65.6" font-size="10.3" text-anchor="start" fill="#111" font-weight="bold" textLength="36.9" lengthAdjust="spacingAndGlyphs">22.2500</text>
<text x="556.1" y="98.3" font-size="11.8" text-anchor="start" fill="#111" font-weight="bold" textLength="39.9" lengthAdjust="spacingAndGlyphs">STRAP</text>
<text x="527.7" y="117.6" font-size="10.3" text-anchor="start" fill="#111" font-weight="bold" textLength="31.2" lengthAdjust="spacingAndGlyphs">8.0000</text>
<text x="166.39999999999998" y="234" font-size="10.3" text-anchor="start" fill="#111" font-weight="bold" textLength="37.4" lengthAdjust="spacingAndGlyphs">91.7500</text>
<text x="265.9" y="158.8" font-size="10.3" text-anchor="start" fill="#111" font-weight="bold" textLength="44.4" lengthAdjust="spacingAndGlyphs">R16.0000</text>
<text x="277.0" y="233.3" font-size="10.3" text-anchor="start" fill="#111" font-weight="bold" textLength="44.3" lengthAdjust="spacingAndGlyphs">R19.0000</text>
<text x="345.9" y="233.8" font-size="10.3" text-anchor="start" fill="#111" font-weight="bold" textLength="36.0" lengthAdjust="spacingAndGlyphs">83.7337</text>
<text x="337.4" y="254.2" font-size="10.3" text-anchor="start" fill="#111" font-weight="bold" textLength="30.7" lengthAdjust="spacingAndGlyphs">1.5000</text>
<text x="424.09999999999997" y="254.2" font-size="10.3" text-anchor="start" fill="#111" font-weight="bold" textLength="31.8" lengthAdjust="spacingAndGlyphs">2.5000</text>
<text x="426.4" y="159.6" font-size="10.3" text-anchor="start" fill="#111" font-weight="bold" textLength="44.3" lengthAdjust="spacingAndGlyphs">R23.5000</text>
<text x="434.4" y="230.8" font-size="10.3" text-anchor="start" fill="#111" font-weight="bold" textLength="45.1" lengthAdjust="spacingAndGlyphs">R39.9667</text>
<text x="543.6" y="259.2" font-size="11.8" text-anchor="start" fill="#111" font-weight="bold" textLength="35.9" lengthAdjust="spacingAndGlyphs">SKIRT</text>
<text x="548.3000000000001" y="275.2" font-size="10.3" text-anchor="start" fill="#111" font-weight="bold" textLength="31.2" lengthAdjust="spacingAndGlyphs">5.5000</text>
<text x="252.7" y="307.2" font-size="10.3" text-anchor="start" fill="#111" font-weight="bold" textLength="50.2" lengthAdjust="spacingAndGlyphs">R104.5000</text>
<text x="427.7" y="314.6" font-size="10.3" text-anchor="start" fill="#111" font-weight="bold" textLength="43.9" lengthAdjust="spacingAndGlyphs">R70.0000</text>
<text x="254.39999999999998" y="377.2" font-size="10.3" text-anchor="start" fill="#111" font-weight="bold" textLength="36.7" lengthAdjust="spacingAndGlyphs">34.2500</text>
<text x="337.7" y="377.2" font-size="10.3" text-anchor="start" fill="#111" font-weight="bold" textLength="36.8" lengthAdjust="spacingAndGlyphs">34.2500</text>
<text x="439.5" y="377.2" font-size="10.3" text-anchor="start" fill="#111" font-weight="bold" textLength="37.9" lengthAdjust="spacingAndGlyphs">47.6129</text>
<text x="167.29999999999998" y="439" font-size="10.3" text-anchor="start" fill="#111" font-weight="bold" textLength="30.5" lengthAdjust="spacingAndGlyphs">2.5000</text>
<text x="289.3" y="439" font-size="10.3" text-anchor="start" fill="#111" font-weight="bold" textLength="31.0" lengthAdjust="spacingAndGlyphs">4.0000</text>
<text x="341.09999999999997" y="439" font-size="10.3" text-anchor="start" fill="#111" font-weight="bold" textLength="30.5" lengthAdjust="spacingAndGlyphs">5.0000</text>
<text x="396.7" y="439" font-size="10.3" text-anchor="start" fill="#111" font-weight="bold" textLength="31.1" lengthAdjust="spacingAndGlyphs">4.0000</text>
<text x="496.9" y="439" font-size="10.3" text-anchor="start" fill="#111" font-weight="bold" textLength="31.2" lengthAdjust="spacingAndGlyphs">2.5000</text>
<text x="14.3" y="440.5" font-size="11.2" text-anchor="start" fill="#262626" textLength="123.7" lengthAdjust="spacingAndGlyphs">COVER INFORMATION</text>
<text x="11.8" y="454.5" font-size="8.7" text-anchor="start" fill="#262626" textLength="88.9" lengthAdjust="spacingAndGlyphs">Dimensions: 120" x 91.75"</text>
<text x="12.2" y="463.7" font-size="8.7" text-anchor="start" fill="#262626" textLength="41.4" lengthAdjust="spacingAndGlyphs">Type of Cut:</text>
<text x="12" y="475.4" font-size="8.7" text-anchor="start" fill="#262626" textLength="51.4" lengthAdjust="spacingAndGlyphs">Size of Cut:N/A</text>
<text x="12.2" y="485.6" font-size="8.7" text-anchor="start" fill="#262626" textLength="65.2" lengthAdjust="spacingAndGlyphs">Taper: 2.5" X 4"X5"</text>
<text x="12" y="496.4" font-size="8.7" text-anchor="start" fill="#262626" textLength="48.4" lengthAdjust="spacingAndGlyphs">Foam Density:</text>
<text x="12" y="508.5" font-size="8.7" text-anchor="start" fill="#262626" textLength="51.4" lengthAdjust="spacingAndGlyphs">Strap Location:</text>
<text x="12" y="520.7" font-size="8.7" text-anchor="start" fill="#262626" textLength="53.7" lengthAdjust="spacingAndGlyphs">Strap Length: 8"</text>
<text x="12" y="531.2" font-size="8.7" text-anchor="start" fill="#262626" textLength="55.3" lengthAdjust="spacingAndGlyphs">Skirt Length:5.5"</text>
<text x="60.4" y="463.7" font-size="6.3" text-anchor="start" fill="#555" textLength="17.6" lengthAdjust="spacingAndGlyphs">Radius</text>
<text x="87.7" y="463.7" font-size="6.3" text-anchor="start" fill="#555" textLength="28.2" lengthAdjust="spacingAndGlyphs">Cut Corner</text>
<text x="122.9" y="463.7" font-size="6.3" text-anchor="start" fill="#555" textLength="21.1" lengthAdjust="spacingAndGlyphs">Square</text>
<text x="70.2" y="508.5" font-size="6.3" text-anchor="start" fill="#555">A</text>
<text x="84.4" y="508.5" font-size="6.3" text-anchor="start" fill="#555">B</text>
<text x="97.4" y="508.5" font-size="6.3" text-anchor="start" fill="#555">C</text>
<text x="111" y="508.5" font-size="6.3" text-anchor="start" fill="#555">D</text>
<text x="126.6" y="508.5" font-size="6.3" text-anchor="start" fill="#555">K</text>
<text x="610.7" y="476.5" font-size="12.6" text-anchor="start" fill="#75838f" textLength="85.6" lengthAdjust="spacingAndGlyphs">corecovers.com</text>
<text x="442.9" y="495.6" font-size="3.8" text-anchor="start" fill="#3c3c3c" textLength="30.7" lengthAdjust="spacingAndGlyphs">TOLERANCE BLOCK</text>
<text x="435" y="500.6" font-size="3.8" text-anchor="start" fill="#3c3c3c" textLength="43.6" lengthAdjust="spacingAndGlyphs">DIMENSIONS ARE IN INCHES</text>
<text x="426.2" y="506.4" font-size="3.3" text-anchor="start" fill="#3c3c3c" textLength="17.0" lengthAdjust="spacingAndGlyphs">DECIMALS .X</text>
<text x="446.3" y="506.4" font-size="3.3" text-anchor="start" fill="#3c3c3c" textLength="4.5" lengthAdjust="spacingAndGlyphs">± .1</text>
<text x="426.2" y="513.2" font-size="3.3" text-anchor="start" fill="#3c3c3c" textLength="18.0" lengthAdjust="spacingAndGlyphs">DECIMALS .XX</text>
<text x="447" y="513.2" font-size="3.3" text-anchor="start" fill="#3c3c3c" textLength="5.5" lengthAdjust="spacingAndGlyphs">±.03</text>
<text x="426.2" y="520.2" font-size="3.3" text-anchor="start" fill="#3c3c3c" textLength="29.5" lengthAdjust="spacingAndGlyphs">DECIMALS .XXX  ± .005</text>
<text x="460.3" y="506.4" font-size="3.3" text-anchor="start" fill="#3c3c3c" textLength="9.0" lengthAdjust="spacingAndGlyphs">ANGLES</text>
<text x="481.8" y="506.4" font-size="3.3" text-anchor="start" fill="#3c3c3c" textLength="5.8" lengthAdjust="spacingAndGlyphs">± .5°</text>
<text x="460.3" y="513.2" font-size="3.3" text-anchor="start" fill="#3c3c3c" textLength="13.5" lengthAdjust="spacingAndGlyphs">FRACTIONS</text>
<text x="481.2" y="513.2" font-size="3.3" text-anchor="start" fill="#3c3c3c" textLength="9.0" lengthAdjust="spacingAndGlyphs">± 1/16"</text>
<text x="440" y="526.4" font-size="4.6" text-anchor="start" fill="#3c3c3c" textLength="39.7" lengthAdjust="spacingAndGlyphs">DO NOT SCALE DRAWING</text>
<text x="426.2" y="530.8" font-size="3.3" text-anchor="start" fill="#3c3c3c" textLength="8.5" lengthAdjust="spacingAndGlyphs">SHAPE</text>
<text x="426.2" y="540.8" font-size="3.3" text-anchor="start" fill="#3c3c3c" textLength="33.0" lengthAdjust="spacingAndGlyphs">SPECIAL SPECIFICATIONS</text>
<text x="516.5" y="495.8" font-size="3.5" text-anchor="start" fill="#3c3c3c" textLength="25.6" lengthAdjust="spacingAndGlyphs">PROPRIETARY</text>
<text x="504.7" y="500.5" font-size="3.5" text-anchor="start" fill="#3c3c3c" textLength="50.3" lengthAdjust="spacingAndGlyphs">THIS DOCUMENT AND THE DATE</text>
<text x="497.5" y="503.8" font-size="3.5" text-anchor="start" fill="#3c3c3c" textLength="55.2" lengthAdjust="spacingAndGlyphs">DISCLOSED HEREIN AND HEREWITH</text>
<text x="497" y="507.1" font-size="3.5" text-anchor="start" fill="#3c3c3c" textLength="58.0" lengthAdjust="spacingAndGlyphs">IS NOT TO BE REPRODUCED, USED OR</text>
<text x="495.3" y="510.3" font-size="3.5" text-anchor="start" fill="#3c3c3c" textLength="61.0" lengthAdjust="spacingAndGlyphs">OTHERWISE DISCLOSED IN WHOLE OR IN</text>
<text x="499.2" y="513.5" font-size="3.5" text-anchor="start" fill="#3c3c3c" textLength="54.1" lengthAdjust="spacingAndGlyphs">PART TO ANYONE WITHOUT WRITTEN</text>
<text x="514.2" y="516.8" font-size="3.5" text-anchor="start" fill="#3c3c3c" textLength="23.5" lengthAdjust="spacingAndGlyphs">AUTHORIZATION</text>
<text x="502.3" y="523.2" font-size="5.3" text-anchor="start" fill="#222" textLength="24.8" lengthAdjust="spacingAndGlyphs" stroke="#222" stroke-width="0.2">APPROVALS</text>
<text x="542.1" y="523.2" font-size="5.3" text-anchor="start" fill="#222" textLength="10.4" lengthAdjust="spacingAndGlyphs" stroke="#222" stroke-width="0.2">DATE</text>
<text x="494.5" y="527" font-size="2.6" text-anchor="start" fill="#3c3c3c">DRAWN BY</text>
<text x="496.4" y="530.6" font-size="3.4" text-anchor="start" fill="#3c3c3c" textLength="27.3" lengthAdjust="spacingAndGlyphs">ARMANDO CHAVEZ</text>
<text x="494.5" y="535" font-size="2.6" text-anchor="start" fill="#3c3c3c">CHECKED BY</text>
<text x="494.5" y="542.5" font-size="2.6" text-anchor="start" fill="#3c3c3c">APPROVED BY</text>
<text x="580.6" y="507.2" font-size="17.6" text-anchor="start" fill="#1a1a1a" textLength="127.0" lengthAdjust="spacingAndGlyphs" stroke="#1a1a1a" stroke-width="0.3">Core Covers</text>
<text x="563" y="514" font-size="2.6" text-anchor="start" fill="#3c3c3c">TITLE</text>
<text x="598.7" y="522.3" font-size="10.9" text-anchor="start" fill="#222" textLength="64.8" lengthAdjust="spacingAndGlyphs">SERENA BAY</text>
<text x="562.2" y="531.5" font-size="2.6" text-anchor="start" fill="#3c3c3c">DRAWING</text>
<text x="574.5" y="531.5" font-size="2.6" text-anchor="start" fill="#3c3c3c">DWG NO. LP-D-NO.</text>
<text x="694" y="531.5" font-size="2.6" text-anchor="start" fill="#3c3c3c">REVISION</text>
<text x="565.5" y="537.8" font-size="7.6" text-anchor="start" fill="#111" stroke="#111" stroke-width="0.25">K</text>
<text x="706.4" y="537.8" font-size="7.6" text-anchor="middle" fill="#111" stroke="#111" stroke-width="0.25">A</text>
<text x="660" y="541.5" font-size="2.6" text-anchor="start" fill="#3c3c3c">SHEET</text>
<text x="676.8" y="546.8" font-size="7.6" text-anchor="start" fill="#222" textLength="16.2" lengthAdjust="spacingAndGlyphs">1 of 1</text>
<text x="149.4" y="50.800000000000004" font-size="6.2" fill="#1a1a1a" stroke="#1a1a1a" stroke-width="0.3">1</text><line x1="151.2" y1="54.2" x2="156.6" y2="46.5" stroke="#1a1a1a" stroke-width="0.85"/><text x="154.6" y="54.2" font-size="5.8" fill="#1a1a1a" stroke="#1a1a1a" stroke-width="0.3">2</text><text x="158.8" y="51.6" font-size="5.5" fill="#1a1a1a">"</text><text x="116.10000000000001" y="59.800000000000004" font-size="6.2" fill="#1a1a1a" stroke="#1a1a1a" stroke-width="0.3">1</text><line x1="117.9" y1="63.2" x2="123.3" y2="55.5" stroke="#1a1a1a" stroke-width="0.85"/><text x="121.3" y="63.2" font-size="5.8" fill="#1a1a1a" stroke="#1a1a1a" stroke-width="0.3">4</text><text x="125.5" y="60.6" font-size="5.5" fill="#1a1a1a">"</text>
</svg>
</body></html>
